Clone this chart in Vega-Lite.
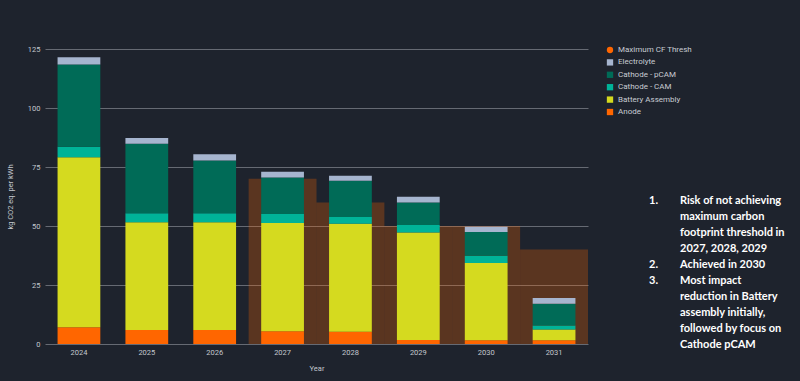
{
  "$schema": "https://vega.github.io/schema/vega-lite/v6.json",
  "width": 543,
  "height": 295,
  "autosize": {"type": "none"},
  "padding": {"left": 45, "top": 49, "right": 212, "bottom": 37},
  "background": "#1e232d",
  "config": {
    "view": {"stroke": null},
    "font": "Roboto",
    "axis": {
      "labelColor": "#c3c7ce",
      "titleColor": "#c3c7ce",
      "labelFontSize": 7.5,
      "titleFontSize": 7.5,
      "titleFontWeight": "normal",
      "domain": false,
      "ticks": false,
      "gridColor": "#666a73",
      "gridWidth": 1
    },
    "legend": {
      "labelColor": "#c8ccd3",
      "labelFontSize": 8
    }
  },
  "datasets": {
    "emissions": [
      {"Year": "2024", "series": "Anode", "kg": 7.1},
      {"Year": "2024", "series": "Battery Assembly", "kg": 72.0},
      {"Year": "2024", "series": "Cathode - CAM", "kg": 4.5},
      {"Year": "2024", "series": "Cathode - pCAM", "kg": 34.8},
      {"Year": "2024", "series": "Electrolyte", "kg": 3.1},
      {"Year": "2025", "series": "Anode", "kg": 5.9},
      {"Year": "2025", "series": "Battery Assembly", "kg": 45.7},
      {"Year": "2025", "series": "Cathode - CAM", "kg": 3.8},
      {"Year": "2025", "series": "Cathode - pCAM", "kg": 29.5},
      {"Year": "2025", "series": "Electrolyte", "kg": 2.4},
      {"Year": "2026", "series": "Anode", "kg": 5.9},
      {"Year": "2026", "series": "Battery Assembly", "kg": 45.7},
      {"Year": "2026", "series": "Cathode - CAM", "kg": 3.8},
      {"Year": "2026", "series": "Cathode - pCAM", "kg": 22.4},
      {"Year": "2026", "series": "Electrolyte", "kg": 2.6},
      {"Year": "2027", "series": "Anode", "kg": 5.4},
      {"Year": "2027", "series": "Battery Assembly", "kg": 45.9},
      {"Year": "2027", "series": "Cathode - CAM", "kg": 3.8},
      {"Year": "2027", "series": "Cathode - pCAM", "kg": 15.4},
      {"Year": "2027", "series": "Electrolyte", "kg": 2.5},
      {"Year": "2028", "series": "Anode", "kg": 5.2},
      {"Year": "2028", "series": "Battery Assembly", "kg": 45.8},
      {"Year": "2028", "series": "Cathode - CAM", "kg": 2.8},
      {"Year": "2028", "series": "Cathode - pCAM", "kg": 15.4},
      {"Year": "2028", "series": "Electrolyte", "kg": 2.1},
      {"Year": "2029", "series": "Anode", "kg": 1.7},
      {"Year": "2029", "series": "Battery Assembly", "kg": 45.5},
      {"Year": "2029", "series": "Cathode - CAM", "kg": 3.2},
      {"Year": "2029", "series": "Cathode - pCAM", "kg": 9.6},
      {"Year": "2029", "series": "Electrolyte", "kg": 2.4},
      {"Year": "2030", "series": "Anode", "kg": 1.6},
      {"Year": "2030", "series": "Battery Assembly", "kg": 32.7},
      {"Year": "2030", "series": "Cathode - CAM", "kg": 3.1},
      {"Year": "2030", "series": "Cathode - pCAM", "kg": 10.1},
      {"Year": "2030", "series": "Electrolyte", "kg": 2.2},
      {"Year": "2031", "series": "Anode", "kg": 1.6},
      {"Year": "2031", "series": "Battery Assembly", "kg": 4.5},
      {"Year": "2031", "series": "Cathode - CAM", "kg": 1.7},
      {"Year": "2031", "series": "Cathode - pCAM", "kg": 9.3},
      {"Year": "2031", "series": "Electrolyte", "kg": 2.4}
    ],
    "threshold": [
      {"Year": "2027", "series": "Maximum CF Thresh", "kg": 70},
      {"Year": "2028", "series": "Maximum CF Thresh", "kg": 60},
      {"Year": "2029", "series": "Maximum CF Thresh", "kg": 50},
      {"Year": "2030", "series": "Maximum CF Thresh", "kg": 50},
      {"Year": "2031", "series": "Maximum CF Thresh", "kg": 40}
    ],
    "notes": [
      {"i": 0, "num": "1.", "line": "Risk of not achieving"},
      {"i": 1, "num": "", "line": "maximum carbon"},
      {"i": 2, "num": "", "line": "footprint threshold in"},
      {"i": 3, "num": "", "line": "2027, 2028, 2029"},
      {"i": 4, "num": "2.", "line": "Achieved in 2030"},
      {"i": 5, "num": "3.", "line": "Most impact"},
      {"i": 6, "num": "", "line": "reduction in Battery"},
      {"i": 7, "num": "", "line": "assembly initially,"},
      {"i": 8, "num": "", "line": "followed by focus on"},
      {"i": 9, "num": "", "line": "Cathode pCAM"}
    ]
  },
  "layer": [
    {
      "data": {"name": "threshold"},
      "mark": {"type": "bar", "opacity": 0.27},
      "encoding": {
        "x": {
          "field": "Year", "type": "nominal",
          "scale": {"domain": ["2024","2025","2026","2027","2028","2029","2030","2031"], "paddingInner": 0, "paddingOuter": 0},
          "axis": null
        },
        "y": {"field": "kg", "type": "quantitative", "scale": {"domain": [0, 125], "nice": false}, "axis": null},
        "color": {"field": "series", "type": "nominal"}
      }
    },
    {
      "data": {"name": "emissions"},
      "mark": {"type": "bar"},
      "encoding": {
        "x": {
          "field": "Year", "type": "nominal",
          "scale": {"domain": ["2024","2025","2026","2027","2028","2029","2030","2031"], "paddingInner": 0.37, "paddingOuter": 0.185},
          "axis": {"labelAngle": 0, "title": "Year", "labelPadding": 4, "titlePadding": 9}
        },
        "y": {
          "field": "kg", "type": "quantitative", "stack": "zero",
          "scale": {"domain": [0, 125], "nice": false},
          "axis": {"title": "kg CO2 eq. per kWh", "grid": true, "values": [0, 25, 50, 75, 100, 125], "labelPadding": 5, "titlePadding": 13}
        },
        "color": {
          "field": "series", "type": "nominal",
          "scale": {
            "domain": ["Maximum CF Thresh", "Electrolyte", "Cathode - pCAM", "Cathode - CAM", "Battery Assembly", "Anode"],
            "range": ["#ff6600", "#a6b5cf", "#006b57", "#00b398", "#d5da1f", "#ff6600"]
          },
          "legend": {
            "title": null,
            "orient": "none",
            "legendX": 561,
            "legendY": -3,
            "symbolOpacity": 1,
            "symbolSize": 40,
            "rowPadding": 4.4,
            "encode": {
              "symbols": {
                "update": {
                  "shape": {"signal": "datum.value === 'Maximum CF Thresh' ? 'circle' : 'square'"},
                  "opacity": {"value": 1}
                }
              }
            }
          }
        },
        "order": {"field": "series", "sort": "ascending"}
      }
    },
    {
      "data": {"name": "notes"},
      "mark": {"type": "text", "align": "left", "baseline": "middle", "font": "Lato", "fontWeight": "bold", "fontSize": 11, "color": "#ffffff"},
      "encoding": {
        "x": {"value": 635},
        "y": {"field": "i", "type": "ordinal", "scale": {"type": "point", "range": [152, 296], "padding": 0}, "axis": null},
        "text": {"field": "line"}
      }
    },
    {
      "data": {"name": "notes"},
      "mark": {"type": "text", "align": "left", "baseline": "middle", "font": "Lato", "fontWeight": "bold", "fontSize": 11, "color": "#ffffff"},
      "encoding": {
        "x": {"value": 604},
        "y": {"field": "i", "type": "ordinal", "scale": {"type": "point", "range": [152, 296], "padding": 0}, "axis": null},
        "text": {"field": "num"}
      }
    }
  ],
  "resolve": {"scale": {"x": "independent", "y": "independent"}}
}
